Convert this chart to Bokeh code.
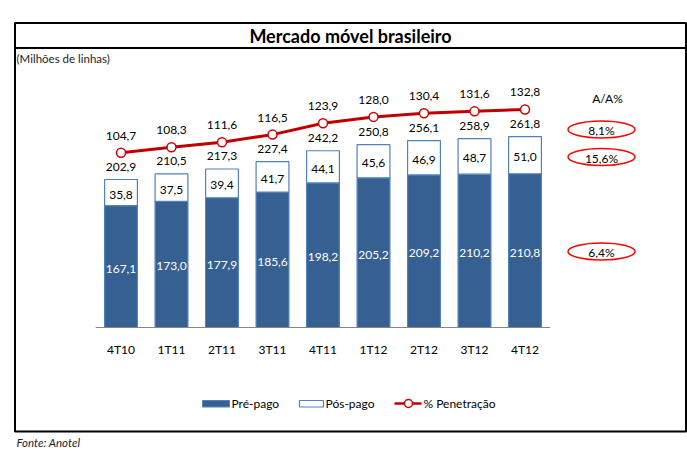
from bokeh.plotting import figure
from bokeh.models import Range1d
from bokeh.core.properties import value
from bokeh.embed import file_html
from bokeh.resources import INLINE

# ---- data ----
categories = ["4T10", "1T11", "2T11", "3T11", "4T11", "1T12", "2T12", "3T12", "4T12"]
pre_pago = [167.1, 173.0, 177.9, 185.6, 198.2, 205.2, 209.2, 210.2, 210.8]
pos_pago = [35.8, 37.5, 39.4, 41.7, 44.1, 45.6, 46.9, 48.7, 51.0]
totals = [202.9, 210.5, 217.3, 227.4, 242.2, 250.8, 256.1, 258.9, 261.8]
penetracao = [104.7, 108.3, 111.6, 116.5, 123.9, 128.0, 130.4, 131.6, 132.8]
aa_labels = ["8,1%", "15,6%", "6,4%"]
legend_labels = ["Pré-pago", "Pós-pago", "% Penetração"]

def fmt(v):
    return f"{v:.1f}".replace(".", ",")

W, H = 687, 450
FONT = "Lato"
PRE_FILL = "#376092"
EDGE = "#4F81BD"
RED = "#C00000"

# pixel calibration (layout only)
X0_PX, STEP_PX = 120.5, 50.5
BASE_PX, BAR_SCALE = 327.0, 0.7294
PEN_REF, PEN_REF_PX, PEN_SCALE = 104.7, 152.3, 1.541

def dx(px):
    return (px - X0_PX) / STEP_PX

def dy(py):
    return (BASE_PX - py) / BAR_SCALE

p = figure(width=W, height=H, output_backend="svg", toolbar_location=None,
           x_axis_location=None, y_axis_location=None,
           x_range=Range1d(dx(0), dx(W)), y_range=Range1d(dy(H), dy(0)),
           min_border=0, min_border_left=0, min_border_right=0,
           min_border_top=0, min_border_bottom=0)
p.outline_line_color = None
p.grid.visible = False
p.background_fill_color = "white"
p.border_fill_color = "white"
p.extra_y_ranges = {"pen": Range1d(PEN_REF + (PEN_REF_PX - H) / PEN_SCALE,
                                   PEN_REF + PEN_REF_PX / PEN_SCALE)}

idx = list(range(len(categories)))
stack_top = [a + b for a, b in zip(pre_pago, pos_pago)]

# frame box and title separator
p.quad(left=[dx(14.5)], right=[dx(685.5)], top=[dy(22.5)], bottom=[dy(431)],
       fill_color=None, line_color="black", line_width=2)
p.segment(x0=[dx(14.5)], x1=[dx(685.5)], y0=[dy(47.5)], y1=[dy(47.5)],
          line_color="black", line_width=2)

# bars
p.vbar(x=idx, width=0.65, bottom=0, top=pre_pago, fill_color=PRE_FILL,
       line_color=EDGE, line_width=1.2)
p.vbar(x=idx, width=0.65, bottom=pre_pago, top=stack_top, fill_color="white",
       line_color=EDGE, line_width=1.2)

# category axis line
p.segment(x0=[-0.5], x1=[len(categories) - 0.5], y0=[0], y1=[0],
          line_color="#868686", line_width=1.2)

# line series
p.line(idx, penetracao, y_range_name="pen", line_color=RED, line_width=3)
p.scatter(idx, penetracao, y_range_name="pen", size=9, fill_color="white",
          line_color="#D00000", line_width=1.5)

lab = dict(text_font=value(FONT), text_font_size="12px", text_align="center",
           text_baseline="middle")
p.text(idx, [v / 2 for v in pre_pago], text=[fmt(v) for v in pre_pago],
       text_color="white", y_offset=2, **lab)
p.text(idx, [a + b / 2 for a, b in zip(pre_pago, pos_pago)],
       text=[fmt(v) for v in pos_pago], text_color="black", y_offset=2, **lab)
p.text(idx, stack_top, text=[fmt(v) for v in totals], text_color="black",
       y_offset=-13, **lab)
p.text(idx, penetracao, text=[fmt(v) for v in penetracao], y_range_name="pen",
       text_color="black", y_offset=-17, **lab)
p.text(idx, [dy(349)] * len(idx), text=categories, text_color="black", **lab)

# A/A% annotations
p.text([dx(607)], [dy(97.5)], text=["A/A%"], text_color="black", **lab)
aa_y = [dy(129), dy(156.5), dy(251)]
p.ellipse([dx(601)] * 3, aa_y, width=67, height=17, width_units="screen",
          height_units="screen", fill_color="white", line_color="#FF0000",
          line_width=1.5)
p.text([dx(601)] * 3, aa_y, text=aa_labels, text_color="black", y_offset=1, **lab)

# titles
p.text([dx(350)], [dy(35.5)], text=["Mercado móvel brasileiro"],
       text_font=value(FONT), text_font_size="18px", text_font_style="bold",
       text_align="center", text_baseline="middle", text_color="black")
p.text([dx(16)], [dy(57.5)], text=["(Milhões de linhas)"], text_font=value(FONT),
       text_font_size="11.5px", text_align="left", text_baseline="middle",
       text_color="#222222")
p.text([dx(16)], [dy(441.5)], text=["Fonte: Anotel"], text_font=value(FONT),
       text_font_size="11.5px", text_font_style="italic", text_align="left",
       text_baseline="middle", text_color="#222222")

# manual legend
LEG_Y = 403
p.quad(left=[dx(202)], right=[dx(229)], top=[dy(400)], bottom=[dy(406.5)],
       fill_color=PRE_FILL, line_color=EDGE, line_width=1)
p.quad(left=[dx(299)], right=[dx(323)], top=[dy(400)], bottom=[dy(406.5)],
       fill_color="white", line_color=EDGE, line_width=1.2)
p.segment(x0=[dx(394)], x1=[dx(421)], y0=[dy(LEG_Y)], y1=[dy(LEG_Y)],
          line_color=RED, line_width=2.5)
p.scatter([dx(408)], [dy(LEG_Y)], size=8, fill_color="white",
          line_color="#D00000", line_width=1.5)
p.text([dx(231), dx(325), dx(423)], [dy(LEG_Y)] * 3, text=legend_labels,
       text_font=value(FONT), text_font_size="12px", text_align="left",
       text_baseline="middle", text_color="black")

open("out.html", "w").write(file_html(p, INLINE))
